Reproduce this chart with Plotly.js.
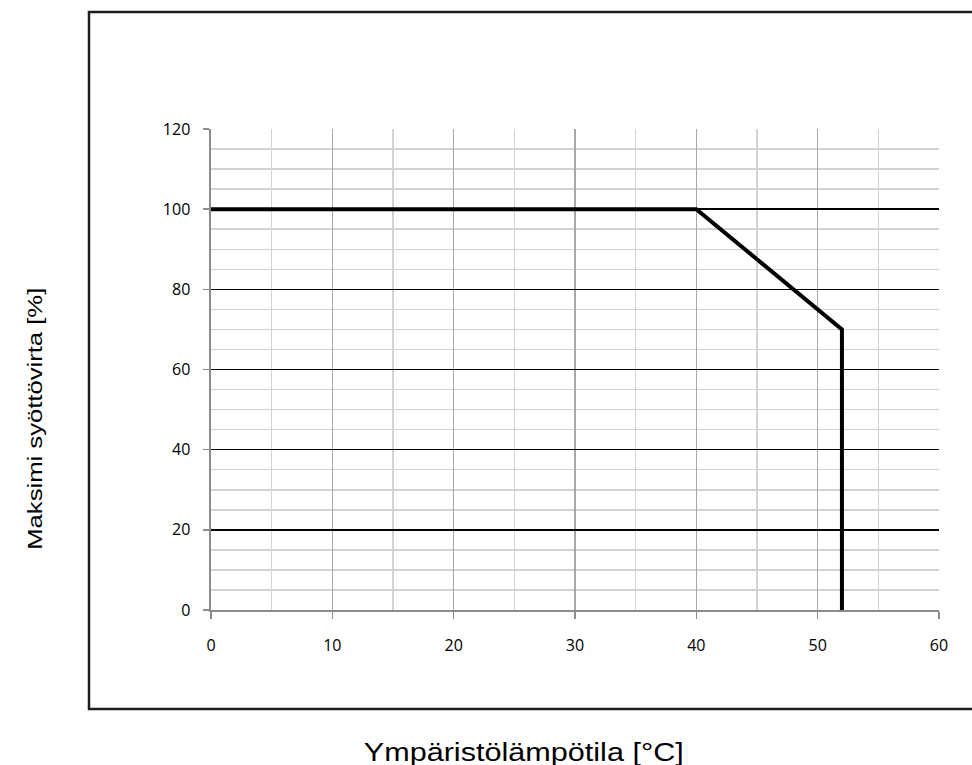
<!DOCTYPE html>
<html>
<head>
<meta charset="utf-8">
<script src="https://cdn.plot.ly/plotly-3.0.1.min.js"></script>
<style>html,body{margin:0;padding:0;background:#fff;}#chart{width:972px;height:765px;}</style>
</head>
<body>
<div id="chart"></div>
<script>
// Data
const temperature = [0, 40, 52, 52];      // °C
const maxCurrent = [100, 100, 70, 0];     // %
const xTickVals = [0, 10, 20, 30, 40, 50, 60];
const yTickVals = [0, 20, 40, 60, 80, 100, 120];
const xTitle = 'Ympäristölämpötila [°C]';
const yTitle = 'Maksimi syöttövirta [%]';

const W = 972, H = 765;
const m = {l: 211, r: 33, t: 129, b: 155};
const pw = W - m.l - m.r, ph = H - m.t - m.b;
const px = v => (v - m.l) / pw;
const py = v => (H - m.b - v) / ph;

const trace = {
  x: temperature, y: maxCurrent, type: 'scatter', mode: 'lines',
  line: {color: '#000', width: 4}, cliponaxis: false, hoverinfo: 'skip'
};

const tickFont = {family: 'Open Sans, Liberation Sans, sans-serif', size: 16, color: '#000'};

const layout = {
  width: W, height: H, margin: m,
  paper_bgcolor: '#fff', plot_bgcolor: '#fff', showlegend: false,
  xaxis: {
    range: [0, 60], tickmode: 'array', tickvals: xTickVals, ticktext: xTickVals.map(String),
    showgrid: true, gridcolor: '#a8a8a8', gridwidth: 1.5,
    minor: {dtick: 5, tick0: 0, showgrid: true, gridcolor: '#d2d2d2', gridwidth: 1.5, ticks: ''},
    showline: true, linecolor: '#8c8c8c', linewidth: 2,
    ticks: 'outside', ticklen: 7, tickcolor: '#8c8c8c', tickwidth: 1.5,
    ticklabelstandoff: 13,
    zeroline: false, tickfont: tickFont, fixedrange: true
  },
  yaxis: {
    range: [0, 120], tickmode: 'array', tickvals: yTickVals, ticktext: yTickVals.map(String),
    showgrid: true, gridcolor: '#000', gridwidth: 1.5,
    minor: {dtick: 5, tick0: 0, showgrid: true, gridcolor: '#d2d2d2', gridwidth: 1.5, ticks: ''},
    showline: true, linecolor: '#8c8c8c', linewidth: 2.5,
    ticks: 'outside', ticklen: 6, tickcolor: '#8c8c8c', tickwidth: 1.5,
    ticklabelstandoff: 9,
    zeroline: false, tickfont: tickFont, fixedrange: true
  },
  shapes: [{
    type: 'rect', xref: 'paper', yref: 'paper',
    x0: px(89), x1: px(985), y0: py(709), y1: py(12),
    line: {color: '#1e1e1e', width: 2.5}, fillcolor: 'rgba(0,0,0,0)', layer: 'below'
  }],
  annotations: [
    {text: xTitle, xref: 'paper', yref: 'paper', x: px(523), y: py(752),
     showarrow: false, xanchor: 'center', yanchor: 'middle',
     font: {family: 'Liberation Sans, Arial, sans-serif', size: 25, color: '#000'}},
    {text: yTitle, xref: 'paper', yref: 'paper', x: px(35), y: py(419),
     showarrow: false, xanchor: 'center', yanchor: 'middle', textangle: -90,
     font: {family: 'Liberation Sans, Arial, sans-serif', size: 20, color: '#000'}}
  ]
};

Plotly.newPlot('chart', [trace], layout, {displayModeBar: false, staticPlot: true}).then(function () {
  // the reference titles are horizontally stretched; widen the real text to match
  const texts = document.querySelectorAll('#chart .annotation-text');
  const lengths = [320, 262];
  texts.forEach(function (t, i) {
    if (lengths[i]) {
      t.setAttribute('textLength', lengths[i]);
      t.setAttribute('lengthAdjust', 'spacingAndGlyphs');
    }
  });
});
</script>
</body>
</html>
